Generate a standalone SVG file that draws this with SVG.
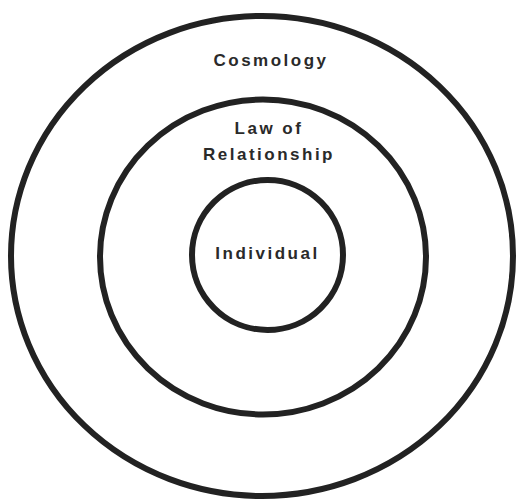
<svg xmlns="http://www.w3.org/2000/svg" width="516" height="499" viewBox="0 0 516 499">
<style>
.ring{fill:none;stroke:#222;stroke-width:6}
.lbl{font-family:"Liberation Sans",Arial,sans-serif;font-weight:bold;font-size:17px;letter-spacing:2.5px;fill:#2a2a2a;text-anchor:middle}
</style>
<rect width="516" height="499" fill="#fff"/>
<g id="cosmology">
<ellipse class="ring" cx="262" cy="256" rx="251" ry="240"/>
<text class="lbl" x="271" y="66">Cosmology</text>
</g>
<g id="law-of-relationship">
<ellipse class="ring" cx="263" cy="257" rx="163" ry="157.5"/>
<text class="lbl" x="269" y="134">Law of</text>
<text class="lbl" x="269" y="160">Relationship</text>
</g>
<g id="individual">
<ellipse class="ring" cx="267.5" cy="255" rx="75.5" ry="75"/>
<text class="lbl" x="267.5" y="259">Individual</text>
</g>
<g id="connectors"/>
</svg>
